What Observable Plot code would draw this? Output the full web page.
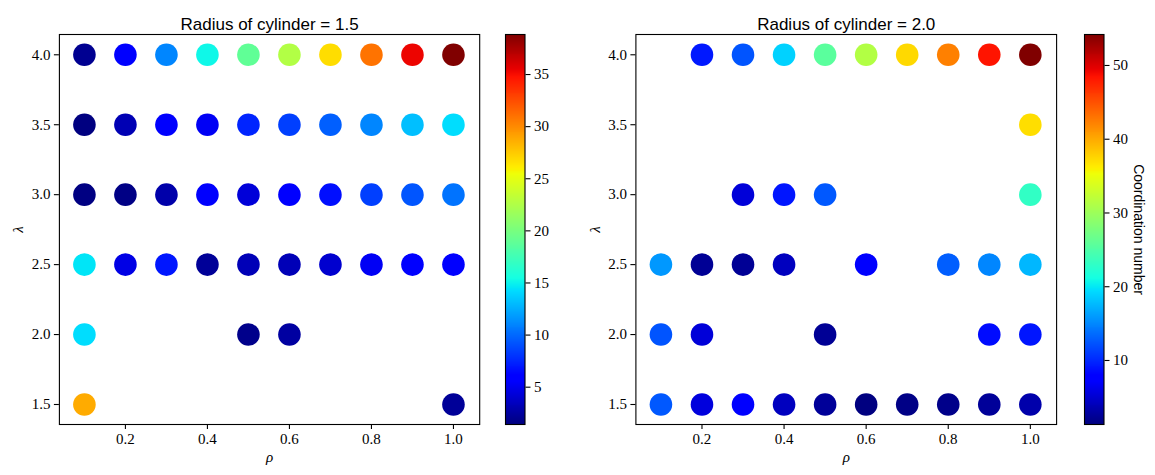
<!DOCTYPE html>
<html>
<head>
<meta charset="utf-8">
<script src="https://cdn.jsdelivr.net/npm/d3@7"></script>
<script src="https://cdn.jsdelivr.net/npm/@observablehq/plot@0.6"></script>
<style>
  html, body { margin: 0; padding: 0; background: #fff; }
  #wrap { position: relative; width: 1155px; height: 475px; overflow: hidden; background: #fff; }
  #wrap > svg { position: absolute; top: 0; }
</style>
</head>
<body>
<div id="wrap"></div>
<script>
// ---- data ----
const rhoValues = [0.1, 0.2, 0.3, 0.4, 0.5, 0.6, 0.7, 0.8, 0.9, 1.0];
const lambdaValues = [4.0, 3.5, 3.0, 2.5, 2.0, 1.5];
const xTicks = [0.2, 0.4, 0.6, 0.8, 1.0];
const yTicks = [1.5, 2.0, 2.5, 3.0, 3.5, 4.0];

// Radius of cylinder = 1.5 (rows follow lambdaValues, columns follow rhoValues)
const cnRadius15 = [
  [2.0, 5.9, 11.0, 15.2, 18.9, 22.6, 26.7, 30.9, 35.3, 38.84],
  [1.42, 3.1, 5.5, 5.2, 7.4, 8.4, 9.6, 11.0, 13.1, 14.2],
  [1.5, 1.6, 2.8, 5.5, 4.3, 5.7, 6.6, 8.4, 9.2, 10.3],
  [14.5, 4.7, 6.9, 2.2, 3.2, 3.2, 4.0, 5.2, 5.6, 5.9],
  [14.2, null, null, null, 1.8, 2.5, null, null, null, null],
  [28.7, null, null, null, null, null, null, null, null, 2.2]
];
// Radius of cylinder = 2.0
const cnRadius20 = [
  [null, 9.2, 12.3, 18.8, 25.6, 31.3, 37.3, 42.3, 48.3, 54.2],
  [null, null, null, null, null, null, null, null, null, 37.0],
  [null, null, 5.4, 9.0, 12.5, null, null, null, null, 23.0],
  [15.8, 2.3, 2.3, 4.2, null, 7.3, null, 12.8, 14.9, 17.4],
  [12.3, 5.4, null, null, 2.3, null, null, null, 8.5, 9.0],
  [12.5, 5.6, 7.2, 4.2, 2.5, 1.32, 1.6, 1.8, 2.5, 3.3]
];
const cbTicks15 = [5, 10, 15, 20, 25, 30, 35];
const cbTicks20 = [10, 20, 30, 40, 50];
const titles = ["Radius of cylinder = 1.5", "Radius of cylinder = 2.0"];
const cbLabel = "Coordination number";

// ---- matplotlib "jet" colormap ----
const jetSeg = {
  r: [[0, 0], [0.35, 0], [0.66, 1], [0.89, 1], [1, 0.5]],
  g: [[0, 0], [0.125, 0], [0.375, 1], [0.64, 1], [0.91, 0], [1, 0]],
  b: [[0, 0.5], [0.11, 1], [0.34, 1], [0.65, 0], [1, 0]]
};
function seg(pts, t) {
  t = Math.max(0, Math.min(1, t));
  for (let i = 1; i < pts.length; i++) {
    if (t <= pts[i][0]) {
      const [t0, v0] = pts[i - 1], [t1, v1] = pts[i];
      return v0 + (v1 - v0) * (t - t0) / (t1 - t0);
    }
  }
  return pts[pts.length - 1][1];
}
function jet(t) {
  return d3.rgb(seg(jetSeg.r, t) * 255, seg(jetSeg.g, t) * 255, seg(jetSeg.b, t) * 255).formatHex();
}

function toRecords(grid) {
  const out = [];
  grid.forEach((row, i) => row.forEach((v, j) => {
    if (v != null) out.push({rho: rhoValues[j], lambda: lambdaValues[i], cn: v});
  }));
  return out;
}

const serif = "'Liberation Serif', 'DejaVu Serif', serif";
const sans = "'Liberation Sans', 'DejaVu Sans', sans-serif";
const wrap = document.getElementById("wrap");
const tickFont = 15;

function scatterPanel(grid, title, left, marginLeft, marginRight) {
  const data = toRecords(grid);
  const ext = d3.extent(data, d => d.cn);
  const svg = Plot.plot({
    width: 490, height: 475,
    marginLeft, marginRight, marginTop: 34, marginBottom: 51,
    style: {fontFamily: serif, fontSize: tickFont + "px", color: "black", background: "transparent", overflow: "visible"},
    x: {domain: [0.039, 1.064]},
    y: {domain: [1.357, 4.145]},
    color: {type: "linear", domain: ext, interpolate: jet},
    marks: [
      Plot.dot(data, {x: "rho", y: "lambda", fill: "cn", r: 11.3}),
      Plot.frame({stroke: "black", strokeWidth: 1.1}),
      Plot.axisX({ticks: xTicks, tickSize: 5, tickPadding: 4, tickFormat: d3.format(".1f"), label: null, fontSize: tickFont, strokeWidth: 1.1}),
      Plot.axisY({ticks: yTicks, tickSize: 5, tickPadding: 4, tickFormat: d3.format(".1f"), label: null, fontSize: tickFont, strokeWidth: 1.1}),
      Plot.text([title], {text: d => d, frameAnchor: "top", dy: -17, fontFamily: sans, fontSize: 17}),
      Plot.text(["ρ"], {text: d => d, frameAnchor: "bottom", dy: 37, fontFamily: serif, fontStyle: "italic", fontSize: 15}),
      Plot.text(["λ"], {text: d => d, frameAnchor: "left", textAnchor: "middle", dx: -41, rotate: -90, fontFamily: serif, fontStyle: "italic", fontSize: 15})
    ]
  });
  svg.style.left = left + "px";
  wrap.appendChild(svg);
  return ext;
}

function colorbar(ext, ticks, left, marginLeft, width, label) {
  const n = 400;
  const step = (ext[1] - ext[0]) / n;
  const slices = d3.range(n).map(i => ({y1: ext[0] + i * step, y2: ext[0] + (i + 1) * step, v: ext[0] + (i + 0.5) * step}));
  const marks = [
    Plot.rect(slices, {y1: "y1", y2: "y2", fill: "v", shapeRendering: "crispEdges"}),
    Plot.frame({stroke: "black", strokeWidth: 1.1}),
    Plot.axisY({anchor: "right", ticks, tickSize: 5, tickPadding: 4, label: null, fontSize: tickFont, strokeWidth: 1.1})
  ];
  if (label) marks.push(Plot.text([label], {text: d => d, frameAnchor: "right", textAnchor: "middle", dx: 34.5, rotate: 90, fontFamily: sans, fontSize: 14}));
  const svg = Plot.plot({
    width, height: 475,
    marginLeft, marginRight: width - marginLeft - 19.5, marginTop: 34, marginBottom: 51,
    style: {fontFamily: serif, fontSize: tickFont + "px", color: "black", background: "transparent", overflow: "visible"},
    y: {domain: ext},
    color: {type: "linear", domain: ext, interpolate: jet},
    marks
  });
  svg.style.left = left + "px";
  wrap.appendChild(svg);
}

const ext15 = scatterPanel(cnRadius15, titles[0], 0, 58.9, 490 - 479.2);
colorbar(ext15, cbTicks15, 490, 15, 80, null);
const ext20 = scatterPanel(cnRadius20, titles[1], 575, 60.4, 490 - 481.1);
colorbar(ext20, cbTicks20, 1065, 19, 90, cbLabel);
</script>
</body>
</html>
